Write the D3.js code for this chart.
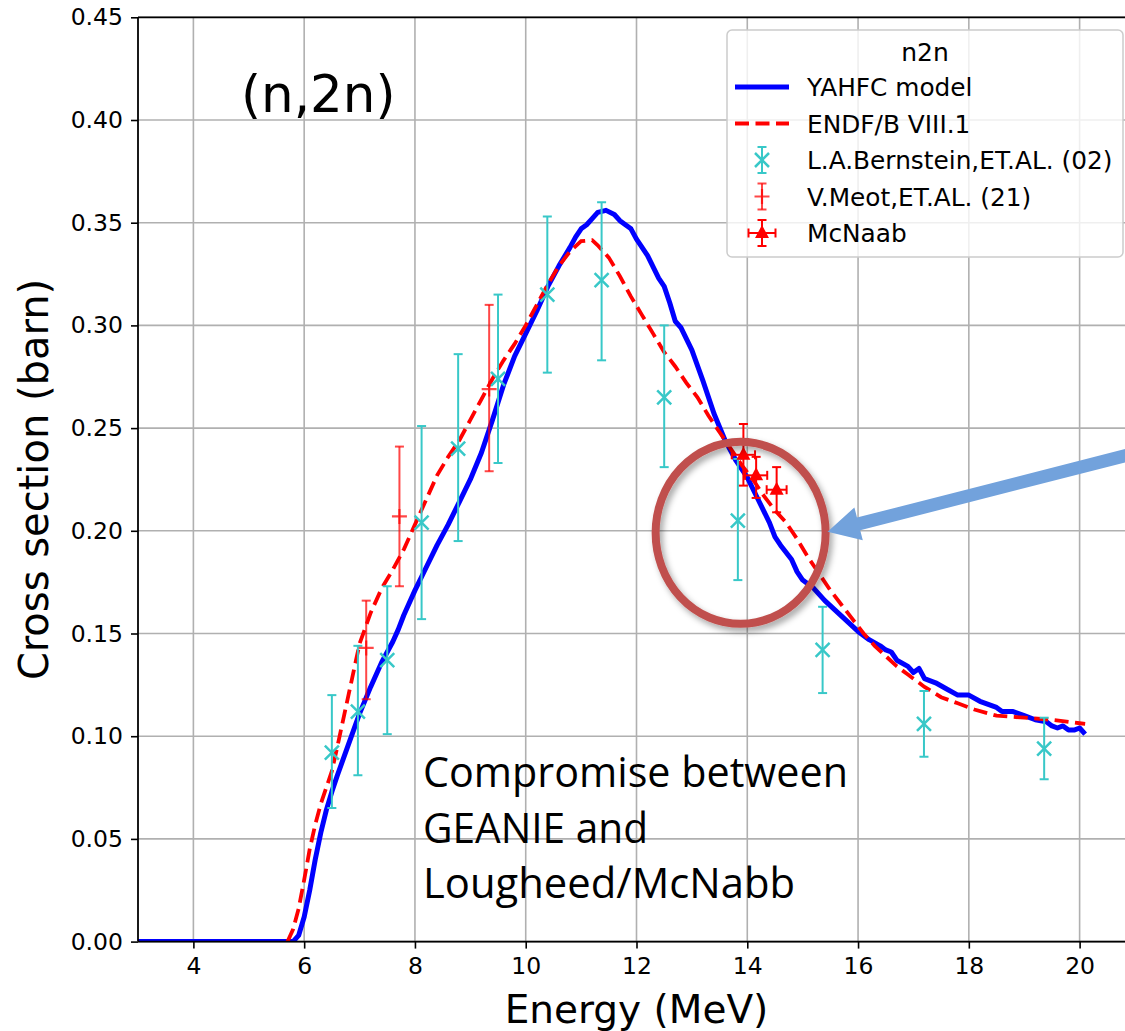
<!DOCTYPE html>
<html>
<head>
<meta charset="utf-8">
<script src="https://cdn.jsdelivr.net/npm/d3@7"></script>
<style>
  body { margin: 0; background: #fff; }
  svg { display: block; font-family: "DejaVu Sans", sans-serif; }
</style>
</head>
<body>
<svg id="chart" width="1125" height="1031"></svg>
<script>
// YAHFC model (blue solid)
var yahfcE = [3.0, 5.8, 5.9, 6.0, 6.1, 6.2, 6.3, 6.4, 6.5, 6.6, 6.8, 7.0, 7.2, 7.4, 7.6, 7.7, 7.8, 8.0, 8.2, 8.4, 8.6, 8.8, 9.0, 9.2, 9.4, 9.6, 9.8, 10.0, 10.2, 10.4, 10.6, 10.8, 10.9, 11.0, 11.1, 11.2, 11.3, 11.45, 11.6, 11.7, 11.9, 12.0, 12.2, 12.4, 12.5, 12.6, 12.7, 12.8, 13.0, 13.2, 13.4, 13.6, 13.8, 14.0, 14.2, 14.4, 14.5, 14.6, 14.8, 14.9, 15.0, 15.2, 15.4, 15.6, 15.8, 16.0, 16.2, 16.4, 16.5, 16.6, 16.7, 16.9, 17.0, 17.1, 17.2, 17.4, 17.6, 17.8, 18.0, 18.2, 18.4, 18.5, 18.6, 18.8, 19.0, 19.2, 19.4, 19.5, 19.6, 19.7, 19.8, 19.9, 20.0, 20.1];
var yahfcV = [0, 0, 0.003, 0.012, 0.025, 0.040, 0.053, 0.064, 0.073, 0.081, 0.096, 0.111, 0.124, 0.136, 0.146, 0.152, 0.159, 0.171, 0.182, 0.193, 0.203, 0.214, 0.225, 0.238, 0.254, 0.271, 0.285, 0.296, 0.307, 0.319, 0.329, 0.338, 0.343, 0.347, 0.349, 0.352, 0.355, 0.356, 0.354, 0.351, 0.347, 0.342, 0.334, 0.323, 0.319, 0.311, 0.302, 0.299, 0.288, 0.273, 0.257, 0.244, 0.234, 0.226, 0.215, 0.204, 0.197, 0.193, 0.186, 0.180, 0.176, 0.172, 0.166, 0.161, 0.156, 0.151, 0.147, 0.144, 0.142, 0.141, 0.137, 0.134, 0.131, 0.133, 0.128, 0.126, 0.123, 0.120, 0.120, 0.117, 0.115, 0.114, 0.112, 0.112, 0.110, 0.108, 0.107, 0.105, 0.104, 0.105, 0.103, 0.103, 0.104, 0.101];

// ENDF/B VIII.1 (red dashed)
var endfE = [5.7, 5.8, 5.9, 6.0, 6.1, 6.2, 6.3, 6.4, 6.5, 6.6, 6.8, 7.0, 7.2, 7.4, 7.6, 7.8, 8.0, 8.2, 8.4, 8.6, 8.8, 9.0, 9.2, 9.4, 9.6, 9.8, 10.0, 10.2, 10.4, 10.6, 10.8, 11.0, 11.2, 11.3, 11.5, 11.7, 11.9, 12.1, 12.3, 12.5, 12.7, 12.9, 13.1, 13.3, 13.5, 13.7, 13.9, 14.1, 14.3, 14.5, 14.7, 14.9, 15.1, 15.3, 15.5, 15.7, 15.9, 16.1, 16.3, 16.5, 16.7, 16.9, 17.2, 17.5, 17.8, 18.1, 18.5, 19.0, 19.5, 20.0, 20.1];
var endfV = [0, 0.006, 0.016, 0.030, 0.045, 0.057, 0.067, 0.075, 0.083, 0.095, 0.120, 0.145, 0.160, 0.172, 0.181, 0.191, 0.203, 0.215, 0.227, 0.236, 0.244, 0.254, 0.264, 0.274, 0.283, 0.291, 0.300, 0.310, 0.320, 0.329, 0.336, 0.341, 0.3415, 0.339, 0.333, 0.324, 0.314, 0.305, 0.296, 0.287, 0.280, 0.272, 0.265, 0.256, 0.248, 0.240, 0.232, 0.225, 0.217, 0.210, 0.204, 0.196, 0.187, 0.179, 0.171, 0.164, 0.157, 0.150, 0.144, 0.139, 0.134, 0.130, 0.124, 0.119, 0.116, 0.113, 0.110, 0.109, 0.108, 0.1063, 0.106];

// L.A.Bernstein, ET.AL. (02)
var bernE  = [6.50, 6.97, 7.50, 8.12, 8.78, 9.50, 10.39, 11.37, 12.50, 13.83, 15.36, 17.19, 19.36];
var bernV  = [0.092, 0.112, 0.137, 0.204, 0.240, 0.274, 0.315, 0.322, 0.265, 0.205, 0.142, 0.106, 0.094];
var bernLo = [0.065, 0.081, 0.101, 0.157, 0.195, 0.233, 0.277, 0.283, 0.231, 0.176, 0.121, 0.090, 0.079];
var bernHi = [0.120, 0.144, 0.173, 0.251, 0.286, 0.315, 0.353, 0.360, 0.300, 0.235, 0.163, 0.122, 0.109];

// V.Meot, ET.AL. (21)
var meotE  = [7.12, 7.72, 9.34];
var meotV  = [0.143, 0.207, 0.269];
var meotLo = [0.118, 0.173, 0.229];
var meotHi = [0.166, 0.241, 0.310];

// McNaab
var mcnE  = [13.93, 14.16, 14.53];
var mcnV  = [0.237, 0.227, 0.220];
var mcnLo = [0.222, 0.216, 0.209];
var mcnHi = [0.252, 0.236, 0.231];
var mcnDx = [0.21, 0.20, 0.18];

var xTicks = [4, 6, 8, 10, 12, 14, 16, 18, 20];
var yTicks = [0, 0.05, 0.10, 0.15, 0.20, 0.25, 0.30, 0.35, 0.40, 0.45];
var noteLines = ["Compromise between", "GEANIE and", "Lougheed/McNabb"];

var BLUE = "#0000ff", RED = "#ff0000", CYAN = "#38c8c8", MEOT = "rgba(255,0,0,0.72)";
var L = 138, R = 1135, T = 17.3, B = 941.6;

var svg = d3.select("#chart");
var x = d3.scaleLinear().domain([3, 21]).range([L, R]);
var y = d3.scaleLinear().domain([0, 0.45]).range([B, T]);

var defs = svg.append("defs");
defs.append("clipPath").attr("id", "clip").append("rect")
  .attr("x", L).attr("y", T).attr("width", R - L).attr("height", B - T);
var sh = defs.append("filter").attr("id", "shadow").attr("x", "-20%").attr("y", "-20%").attr("width", "140%").attr("height", "140%");
sh.append("feDropShadow").attr("dx", 3).attr("dy", 4).attr("stdDeviation", 3).attr("flood-color", "#000").attr("flood-opacity", 0.35);

// grid
var grid = svg.append("g");
grid.selectAll(".gx").data(xTicks).enter().append("line")
  .attr("x1", x).attr("x2", x).attr("y1", T).attr("y2", B)
  .attr("stroke", "#b0b0b0").attr("stroke-width", 1.6);
grid.selectAll(".gy").data(yTicks).enter().append("line")
  .attr("y1", y).attr("y2", y).attr("x1", L).attr("x2", R)
  .attr("stroke", "#b0b0b0").attr("stroke-width", 1.6);

var plot = svg.append("g").attr("clip-path", "url(#clip)");

function pairs(xs, ys){ return xs.map(function(d, i){ return [d, ys[i]]; }); }
var line = d3.line().x(function(d){ return x(d[0]); }).y(function(d){ return y(d[1]); });

plot.append("path").datum(pairs(yahfcE, yahfcV)).attr("d", line)
  .attr("fill", "none").attr("stroke", BLUE).attr("stroke-width", 5).attr("stroke-linejoin", "round");
plot.append("path").datum(pairs(endfE, endfV)).attr("d", line)
  .attr("fill", "none").attr("stroke", RED).attr("stroke-width", 3.8).attr("stroke-dasharray", "14,6.5");

// error bar helper
function vbar(g, cx, y1, y2, col, w){
  g.append("line").attr("x1", cx).attr("x2", cx).attr("y1", y1).attr("y2", y2).attr("stroke", col).attr("stroke-width", w);
  g.append("line").attr("x1", cx - 4.5).attr("x2", cx + 4.5).attr("y1", y1).attr("y2", y1).attr("stroke", col).attr("stroke-width", w);
  g.append("line").attr("x1", cx - 4.5).attr("x2", cx + 4.5).attr("y1", y2).attr("y2", y2).attr("stroke", col).attr("stroke-width", w);
}
function hbar(g, cy, x1, x2, col, w){
  g.append("line").attr("x1", x1).attr("x2", x2).attr("y1", cy).attr("y2", cy).attr("stroke", col).attr("stroke-width", w);
  g.append("line").attr("x1", x1).attr("x2", x1).attr("y1", cy - 4.5).attr("y2", cy + 4.5).attr("stroke", col).attr("stroke-width", w);
  g.append("line").attr("x1", x2).attr("x2", x2).attr("y1", cy - 4.5).attr("y2", cy + 4.5).attr("stroke", col).attr("stroke-width", w);
}
var XMARK = "M-7,-7L7,7M-7,7L7,-7", PLUS = "M-7.5,0H7.5M0,-7.5V7.5", TRI = "M0,-8L7,5H-7Z";

var gb = plot.append("g");
bernE.forEach(function(e, i){
  vbar(gb, x(e), y(bernHi[i]), y(bernLo[i]), CYAN, 2);
  gb.append("path").attr("d", XMARK).attr("transform", "translate(" + x(e) + "," + y(bernV[i]) + ")")
    .attr("stroke", CYAN).attr("stroke-width", 2.5).attr("fill", "none");
});
var gm = plot.append("g");
meotE.forEach(function(e, i){
  vbar(gm, x(e), y(meotHi[i]), y(meotLo[i]), MEOT, 2);
  gm.append("path").attr("d", PLUS).attr("transform", "translate(" + x(e) + "," + y(meotV[i]) + ")")
    .attr("stroke", MEOT).attr("stroke-width", 2.2).attr("fill", "none");
});
var gc = plot.append("g");
mcnE.forEach(function(e, i){
  vbar(gc, x(e), y(mcnHi[i]), y(mcnLo[i]), RED, 2);
  hbar(gc, y(mcnV[i]), x(e - mcnDx[i]), x(e + mcnDx[i]), RED, 2);
  gc.append("path").attr("d", TRI).attr("transform", "translate(" + x(e) + "," + y(mcnV[i]) + ")").attr("fill", RED);
});

// axes
var xAxis = svg.append("g").attr("transform", "translate(0," + B + ")")
  .call(d3.axisBottom(x).tickValues(xTicks).tickSize(7).tickPadding(9).tickFormat(d3.format("d")));
var yAxis = svg.append("g").attr("transform", "translate(" + L + ",0)")
  .call(d3.axisLeft(y).tickValues(yTicks).tickSize(7).tickPadding(8).tickFormat(d3.format(".2f")));
[xAxis, yAxis].forEach(function(a){
  a.select(".domain").remove();
  a.selectAll(".tick line").attr("stroke", "#000").attr("stroke-width", 1.6);
  a.selectAll(".tick text").attr("fill", "#000").style("font-size", "23.5px").style("font-family", "DejaVu Sans");
});
svg.append("line").attr("x1", L).attr("x2", L).attr("y1", T).attr("y2", B).attr("stroke", "#000").attr("stroke-width", 1.8);
svg.append("line").attr("x1", L).attr("x2", R).attr("y1", B).attr("y2", B).attr("stroke", "#000").attr("stroke-width", 1.8);
svg.append("line").attr("x1", L).attr("x2", R).attr("y1", T).attr("y2", T).attr("stroke", "#000").attr("stroke-width", 1.8);

svg.append("text").attr("x", (L + R) / 2).attr("y", 1023).attr("text-anchor", "middle")
  .style("font-size", "39px").text("Energy (MeV)");
svg.append("text").attr("transform", "translate(48," + ((T + B) / 2) + ") rotate(-90)").attr("text-anchor", "middle")
  .style("font-size", "40px").text("Cross section (barn)");

svg.append("text").attr("x", 241).attr("y", 112).style("font-size", "51.5px").text("(n,2n)");

// legend
var lg = svg.append("g");
lg.append("rect").attr("x", 727).attr("y", 30).attr("width", 396).attr("height", 227).attr("rx", 5)
  .attr("fill", "rgba(255,255,255,0.8)").attr("stroke", "#cccccc").attr("stroke-width", 1.5);
lg.append("text").attr("x", 925).attr("y", 61).attr("text-anchor", "middle").style("font-size", "25px").text("n2n");
var legItems = ["YAHFC model", "ENDF/B VIII.1", "L.A.Bernstein,ET.AL. (02)", "V.Meot,ET.AL. (21)", "McNaab"];
var legY = [87, 123.5, 160, 196.5, 233];
legItems.forEach(function(t, i){
  lg.append("text").attr("x", 807).attr("y", legY[i] + 9).style("font-size", "24.8px").text(t);
});
lg.append("line").attr("x1", 735).attr("x2", 789).attr("y1", legY[0]).attr("y2", legY[0]).attr("stroke", BLUE).attr("stroke-width", 5);
lg.append("line").attr("x1", 735).attr("x2", 789).attr("y1", legY[1]).attr("y2", legY[1]).attr("stroke", RED).attr("stroke-width", 3.8).attr("stroke-dasharray", "14,6.5");
vbar(lg, 762, legY[2] - 13, legY[2] + 13, CYAN, 2);
lg.append("path").attr("d", XMARK).attr("transform", "translate(762," + legY[2] + ")").attr("stroke", CYAN).attr("stroke-width", 2.5);
vbar(lg, 762, legY[3] - 13, legY[3] + 13, MEOT, 2);
lg.append("path").attr("d", PLUS).attr("transform", "translate(762," + legY[3] + ")").attr("stroke", MEOT).attr("stroke-width", 2.2);
vbar(lg, 762, legY[4] - 13, legY[4] + 13, RED, 2);
hbar(lg, legY[4], 748.5, 775.5, RED, 2);
lg.append("path").attr("d", TRI).attr("transform", "translate(762," + legY[4] + ")").attr("fill", RED);

// annotations
var note = svg.append("g").style("font-family", "'Open Sans', sans-serif").style("font-size", "42px");
var noteW = [425, 225, 372];
noteLines.forEach(function(t, i){
  note.append("text").attr("x", 423).attr("y", 787 + i * 55.5)
    .attr("textLength", noteW[i]).attr("lengthAdjust", "spacingAndGlyphs").text(t);
});

// circle around the McNaab points
var cE = 13.88, cV = 0.199;
svg.append("ellipse").attr("cx", x(cE)).attr("cy", y(cV)).attr("rx", 85).attr("ry", 91)
  .attr("fill", "none").attr("stroke", "#c0504d").attr("stroke-width", 8).attr("filter", "url(#shadow)");

// arrow pointing at the circle
var tail = [x(20.96), y(0.2375)], tip = [x(15.45), y(0.1995)];
var dx = tip[0] - tail[0], dy = tip[1] - tail[1], len = Math.sqrt(dx * dx + dy * dy);
var ux = dx / len, uy = dy / len, px = -uy, py = ux;
var hl = 32, hw = 17, sw = 6.5;
var bx = tip[0] - ux * hl, by = tip[1] - uy * hl;
var arrowPts = [
  [tail[0] + px * sw, tail[1] + py * sw],
  [bx + px * sw, by + py * sw],
  [bx + px * hw, by + py * hw],
  tip,
  [bx - px * hw, by - py * hw],
  [bx - px * sw, by - py * sw],
  [tail[0] - px * sw, tail[1] - py * sw]
];
svg.append("path").attr("d", "M" + arrowPts.map(function(p){ return p.join(","); }).join("L") + "Z")
  .attr("fill", "#72a2dc");
</script>
</body>
</html>
